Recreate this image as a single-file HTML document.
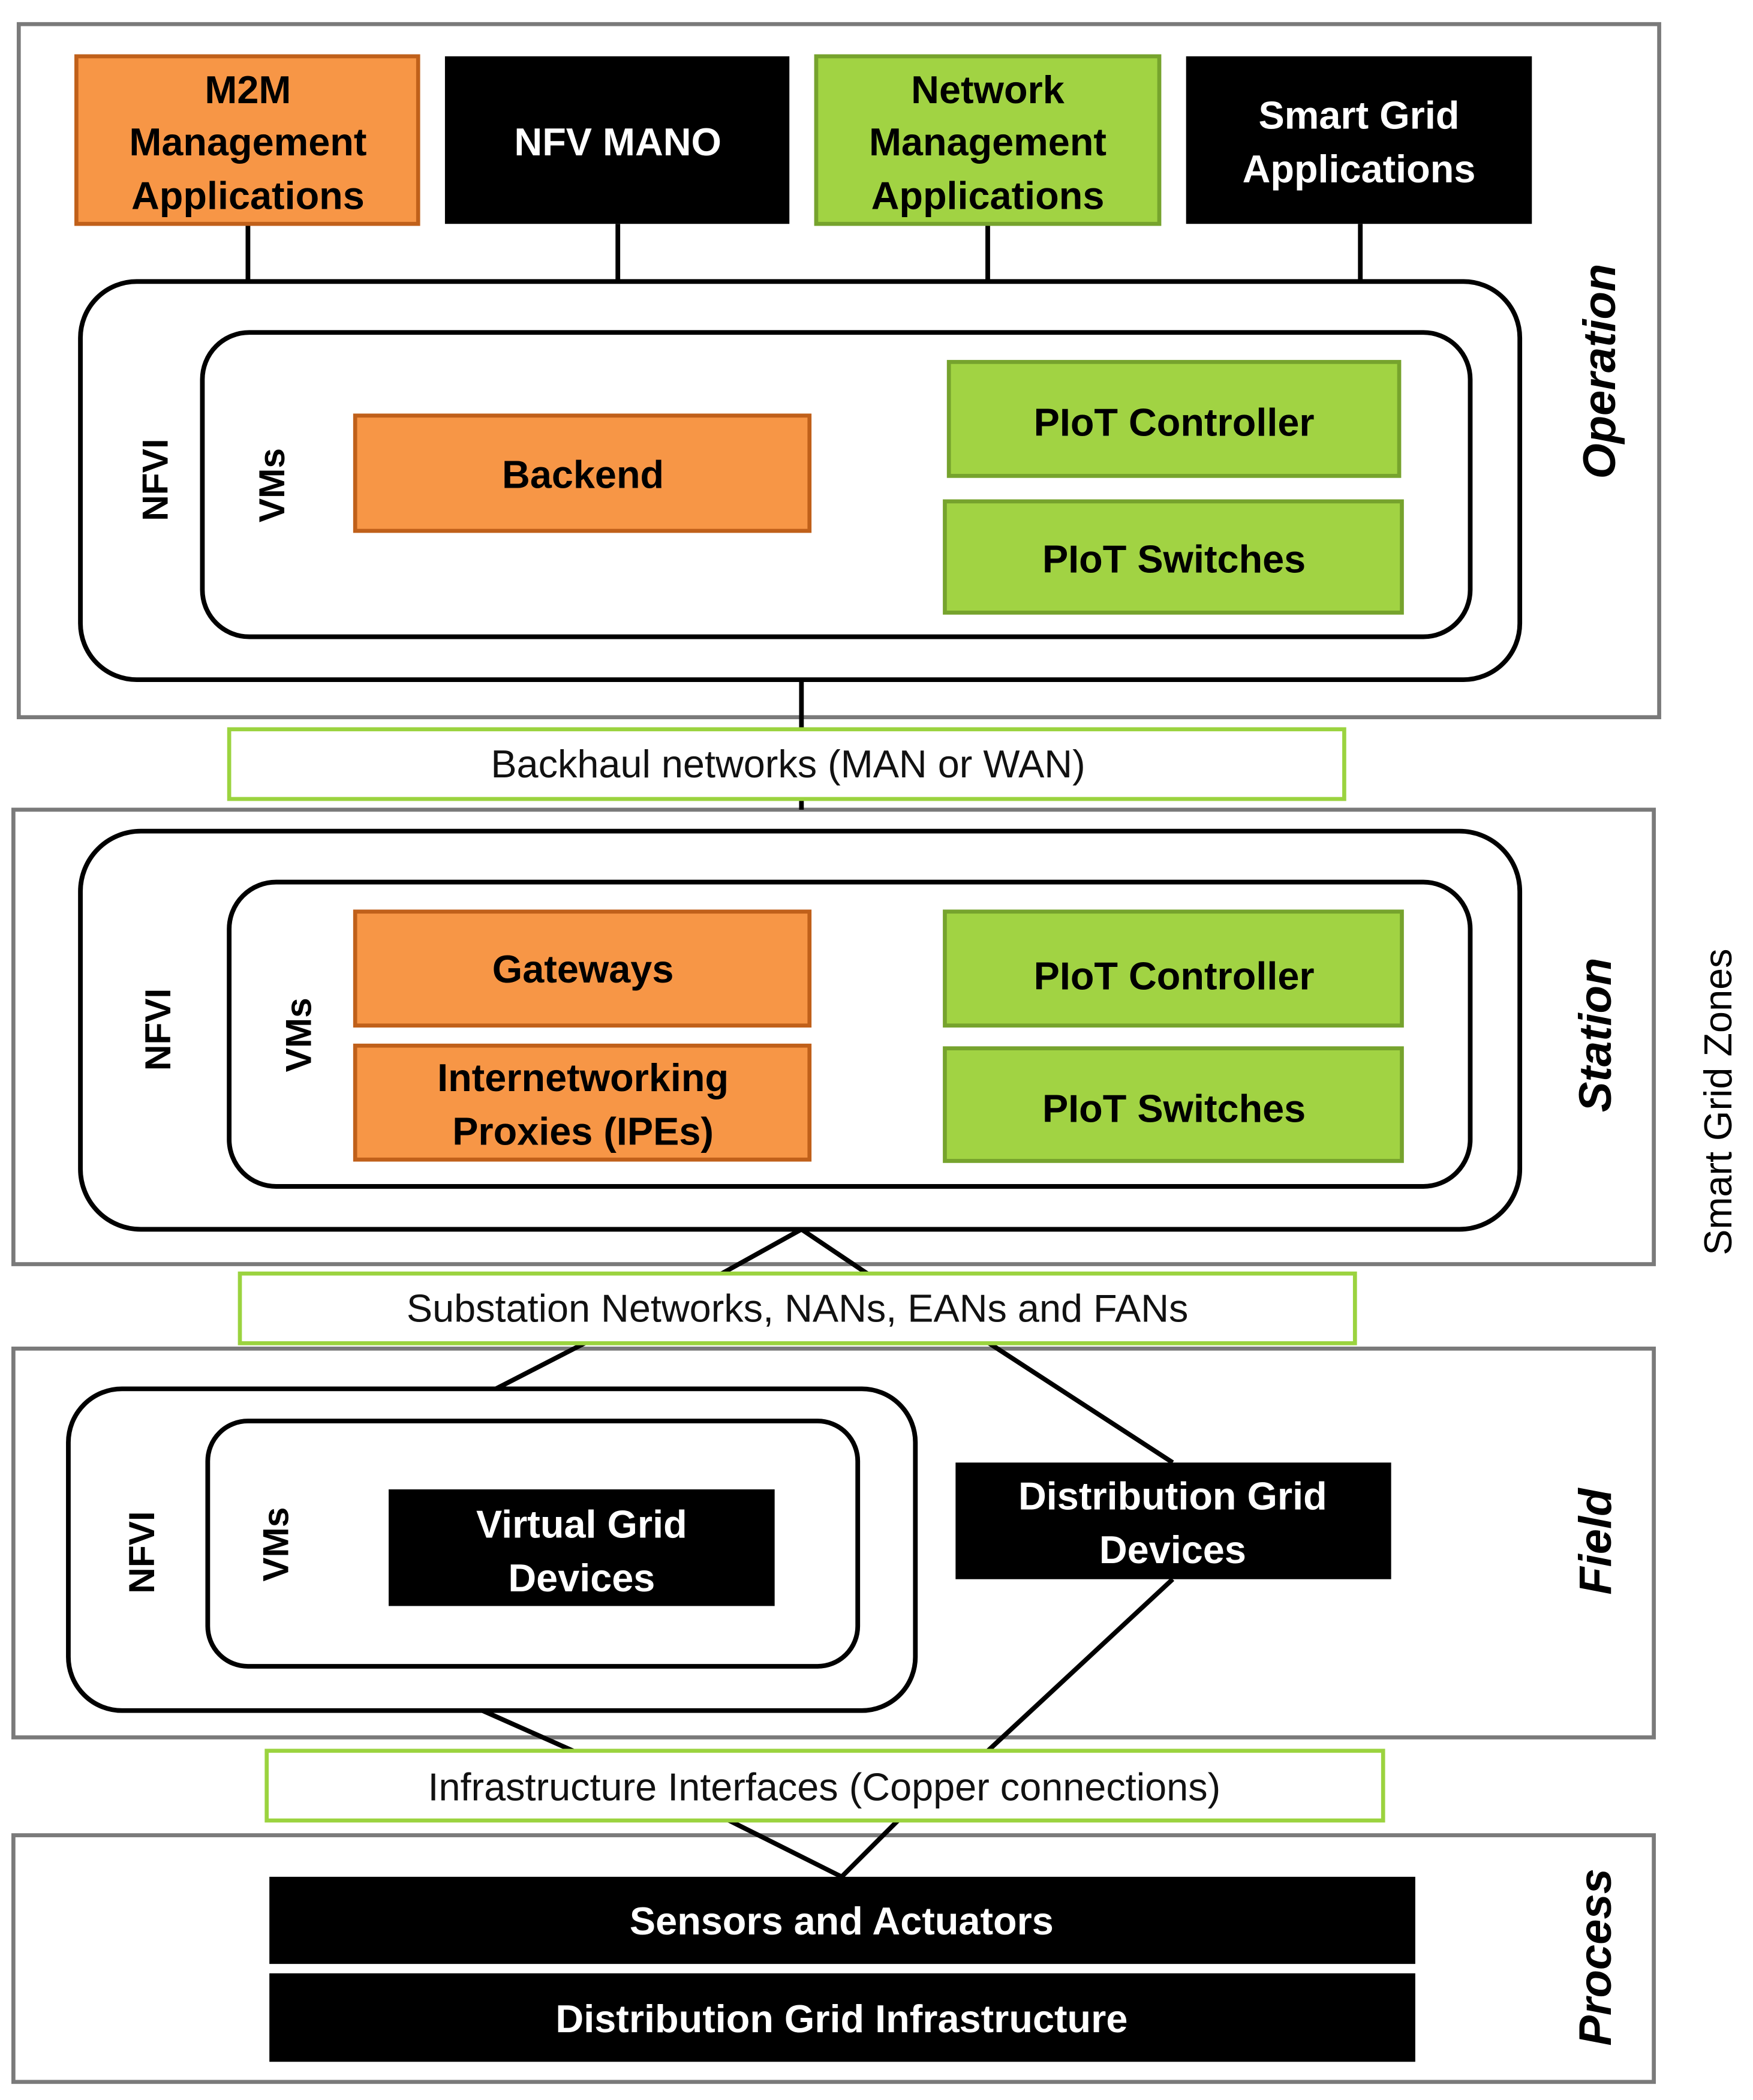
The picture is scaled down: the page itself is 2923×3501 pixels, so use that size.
<!DOCTYPE html>
<html><head><meta charset="utf-8"><style>
html,body{margin:0;padding:0;background:#fff;}
svg{display:block;}
text{font-family:"Liberation Sans",Arial,sans-serif;}
.b{font-weight:bold;font-size:29px;text-anchor:middle;}
.r{font-size:29px;text-anchor:middle;fill:#111;}
.zone{fill:#fff;stroke:#7a7a7a;stroke-width:3;}
.rr{fill:#fff;stroke:#000;stroke-width:3.5;}
.or{fill:#F79646;stroke:#C0601A;stroke-width:3;}
.gr{fill:#A1D343;stroke:#76A32D;stroke-width:3;}
.bk{fill:#000;}
.lab{fill:#fff;stroke:#9BD33F;stroke-width:3;}
.ln{stroke:#000;stroke-width:3.5;fill:none;}
.zl{font-weight:bold;font-style:italic;font-size:34px;text-anchor:middle;}
.vt{font-weight:bold;font-size:27px;text-anchor:middle;}
</style></head><body>
<svg width="2923" height="3501" viewBox="0 0 1308 1566.5" preserveAspectRatio="none" xmlns="http://www.w3.org/2000/svg">
<rect width="1310" height="1570" fill="#fff"/>
<rect class="zone" x="14" y="18" width="1224" height="517"/>
<rect class="zone" x="10" y="604" width="1224" height="339"/>
<rect class="zone" x="10" y="1006" width="1224" height="290"/>
<rect class="zone" x="10" y="1369" width="1224" height="184"/>

<line class="ln" x1="185" y1="167" x2="185" y2="210"/>
<line class="ln" x1="461" y1="167" x2="461" y2="210"/>
<line class="ln" x1="737" y1="167" x2="737" y2="210"/>
<line class="ln" x1="1015" y1="167" x2="1015" y2="210"/>
<line class="ln" x1="598" y1="507" x2="598" y2="604"/>
<polyline class="ln" points="535,952 598,917 650,952"/>
<line class="ln" x1="370" y1="1036" x2="440" y2="1000"/>
<line class="ln" x1="735" y1="1000" x2="875" y2="1091"/>
<line class="ln" x1="360" y1="1276" x2="432" y2="1308"/>
<line class="ln" x1="875" y1="1178" x2="735" y2="1308"/>
<polyline class="ln" points="540,1356 628,1400 672,1356"/>

<rect class="or" x="57" y="42" width="255" height="125"/>
<text class="b" x="185" y="77">M2M</text>
<text class="b" x="185" y="116">Management</text>
<text class="b" x="185" y="156">Applications</text>
<rect class="bk" x="332" y="42" width="257" height="125"/>
<text class="b" x="461" y="116" fill="#fff">NFV MANO</text>
<rect class="gr" x="609" y="42" width="256" height="125"/>
<text class="b" x="737" y="77">Network</text>
<text class="b" x="737" y="116">Management</text>
<text class="b" x="737" y="156">Applications</text>
<rect class="bk" x="885" y="42" width="258" height="125"/>
<text class="b" x="1014" y="96" fill="#fff">Smart Grid</text>
<text class="b" x="1014" y="136" fill="#fff">Applications</text>

<rect class="rr" x="60" y="210" width="1074" height="297" rx="42"/>
<rect class="rr" x="151" y="248" width="946" height="227" rx="35"/>
<text class="vt" transform="translate(125,358) rotate(-90)">NFVI</text>
<text class="vt" transform="translate(212,362) rotate(-90)">VMs</text>
<rect class="or" x="265" y="310" width="339" height="86"/>
<text class="b" x="435" y="364">Backend</text>
<rect class="gr" x="708" y="270" width="336" height="85"/>
<text class="b" x="876" y="325">PIoT Controller</text>
<rect class="gr" x="705" y="374" width="341" height="83"/>
<text class="b" x="876" y="427">PIoT Switches</text>
<text class="zl" transform="translate(1205,277) rotate(-90)">Operation</text>

<rect class="lab" x="171" y="544" width="832" height="52"/>
<text class="r" x="588" y="580">Backhaul networks (MAN or WAN)</text>

<rect class="rr" x="60" y="620" width="1074" height="297" rx="45"/>
<rect class="rr" x="171" y="658" width="926" height="227" rx="35"/>
<text class="vt" transform="translate(127,768) rotate(-90)">NFVI</text>
<text class="vt" transform="translate(232,772) rotate(-90)">VMs</text>
<rect class="or" x="265" y="680" width="339" height="85"/>
<text class="b" x="435" y="733">Gateways</text>
<rect class="or" x="265" y="780" width="339" height="85"/>
<text class="b" x="435" y="814">Internetworking</text>
<text class="b" x="435" y="854">Proxies (IPEs)</text>
<rect class="gr" x="705" y="680" width="341" height="85"/>
<text class="b" x="876" y="738">PIoT Controller</text>
<rect class="gr" x="705" y="782" width="341" height="84"/>
<text class="b" x="876" y="837">PIoT Switches</text>
<text class="zl" transform="translate(1202,772) rotate(-90)">Station</text>
<text transform="translate(1292,822) rotate(-90)" style="font-size:29px;text-anchor:middle;">Smart Grid Zones</text>

<rect class="lab" x="179" y="950" width="832" height="52"/>
<text class="r" x="595" y="986">Substation Networks, NANs, EANs and FANs</text>

<rect class="rr" x="51" y="1036" width="632" height="240" rx="40"/>
<rect class="rr" x="155" y="1060" width="485" height="183" rx="30"/>
<text class="vt" transform="translate(115,1158) rotate(-90)">NFVI</text>
<text class="vt" transform="translate(215,1152) rotate(-90)">VMs</text>
<rect class="bk" x="290" y="1111" width="288" height="87"/>
<text class="b" x="434" y="1147" fill="#fff">Virtual Grid</text>
<text class="b" x="434" y="1187" fill="#fff">Devices</text>
<rect class="bk" x="713" y="1091" width="325" height="87"/>
<text class="b" x="875" y="1126" fill="#fff">Distribution Grid</text>
<text class="b" x="875" y="1166" fill="#fff">Devices</text>
<text class="zl" transform="translate(1202,1150) rotate(-90)">Field</text>

<rect class="lab" x="199" y="1306" width="833" height="52"/>
<text class="r" x="615" y="1343">Infrastructure Interfaces (Copper connections)</text>

<rect class="bk" x="201" y="1400" width="855" height="65"/>
<text class="b" x="628" y="1443" fill="#fff">Sensors and Actuators</text>
<rect class="bk" x="201" y="1472" width="855" height="66"/>
<text class="b" x="628" y="1516" fill="#fff">Distribution Grid Infrastructure</text>
<text class="zl" transform="translate(1202,1460) rotate(-90)">Process</text>
</svg>
</body></html>
